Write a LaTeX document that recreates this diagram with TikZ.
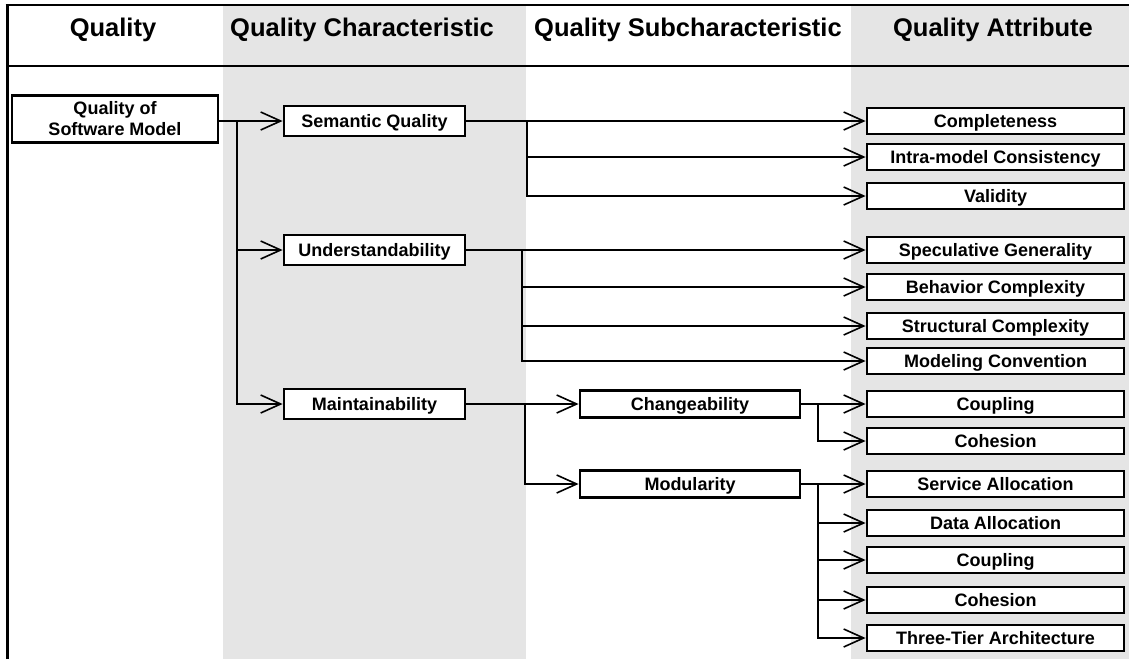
\documentclass[tikz,border=0pt]{standalone}
\usepackage{fontspec}
\setmainfont{Liberation Sans}
\usetikzlibrary{arrows.meta}
\definecolor{colshade}{RGB}{229,229,229}

\begin{document}
\begin{tikzpicture}[x=1pt, y=-1pt, >={Straight Barb[length=20pt,width=18pt]},
  box/.style={draw, line width=2.8pt, fill=white, inner sep=0pt, text height=12.5pt, text depth=0pt,
    font=\bfseries\fontsize{18}{21}\selectfont},
  attr/.style={box, minimum width=257pt, minimum height=26pt},
  char/.style={box, minimum width=181pt, minimum height=30pt},
  sub/.style={box, minimum width=220pt, minimum height=27pt},
  head/.style={font=\bfseries\fontsize{25.5}{30}\selectfont},
  link/.style={line width=1.6pt}]
  \useasboundingbox (0,0) rectangle (1129,659);
  % shaded columns
  \fill[colshade] (223,5) rectangle (526,659);
  \fill[colshade] (851,5) rectangle (1129,659);
  % frame and heading rule
  \draw[line width=3pt] (7,659) -- (7,5);
  \draw[line width=2pt] (5.5,5) -- (1129,5);
  \draw[line width=2pt] (7,66) -- (1129,66);
  % column headings
  \node[head] (hqual) at (113,30) {Quality};
  \node[head] (hchar) at (362,30) {Quality Characteristic};
  \node[head] (hsub) at (688,30) {Quality Subcharacteristic};
  \node[head] (hattr) at (993,30) {Quality Attribute};

  % quality
  \node[box, text height=, text depth=, minimum width=206pt, minimum height=47pt, align=center] (qsm) at (115,119) {Quality of\\Software Model};
  % characteristics
  \node[char] (sem) at (374.5,121) {Semantic Quality};
  \node[char] (und) at (374.5,250) {Understandability};
  \node[char] (main) at (374.5,404) {Maintainability};
  % subcharacteristics
  \node[sub] (chg) at (690,404) {Changeability};
  \node[sub] (mod) at (690,484) {Modularity};
  % attributes
  \node[attr] (comp) at (995.5,121) {Completeness};
  \node[attr] (intra) at (995.5,157) {Intra-model Consistency};
  \node[attr] (valid) at (995.5,196) {Validity};
  \node[attr] (spec) at (995.5,250) {Speculative Generality};
  \node[attr] (behav) at (995.5,287) {Behavior Complexity};
  \node[attr] (struct) at (995.5,326) {Structural Complexity};
  \node[attr] (conv) at (995.5,361) {Modeling Convention};
  \node[attr] (coupc) at (995.5,404) {Coupling};
  \node[attr] (cohc) at (995.5,441) {Cohesion};
  \node[attr] (serv) at (995.5,484) {Service Allocation};
  \node[attr] (data) at (995.5,523) {Data Allocation};
  \node[attr] (coupm) at (995.5,560) {Coupling};
  \node[attr] (cohm) at (995.5,600) {Cohesion};
  \node[attr] (tier) at (995.5,638) {Three-Tier Architecture};

  % branch points
  \coordinate (qj) at (237,121);
  \coordinate (sj) at (527,121);
  \coordinate (uj) at (522,250);
  \coordinate (mj) at (525,404);
  \coordinate (cj) at (818,404);
  \coordinate (dj) at (818,484);

  \draw[link,->] (qsm.east |- sem.west) -- (sem.west);
  \draw[link,->] (qj) |- (und.west);
  \draw[link,->] (qj) |- (main.west);

  \draw[link,->] (sem.east) -- (comp.west);
  \draw[link,->] (sj) |- (intra.west);
  \draw[link,->] (sj) |- (valid.west);

  \draw[link,->] (und.east) -- (spec.west);
  \draw[link,->] (uj) |- (behav.west);
  \draw[link,->] (uj) |- (struct.west);
  \draw[link,->] (uj) |- (conv.west);

  \draw[link,->] (main.east) -- (chg.west);
  \draw[link,->] (mj) |- (mod.west);

  \draw[link,->] (chg.east) -- (coupc.west);
  \draw[link,->] (cj) |- (cohc.west);

  \draw[link,->] (mod.east) -- (serv.west);
  \draw[link,->] (dj) |- (data.west);
  \draw[link,->] (dj) |- (coupm.west);
  \draw[link,->] (dj) |- (cohm.west);
  \draw[link,->] (dj) |- (tier.west);
\end{tikzpicture}
\end{document}
